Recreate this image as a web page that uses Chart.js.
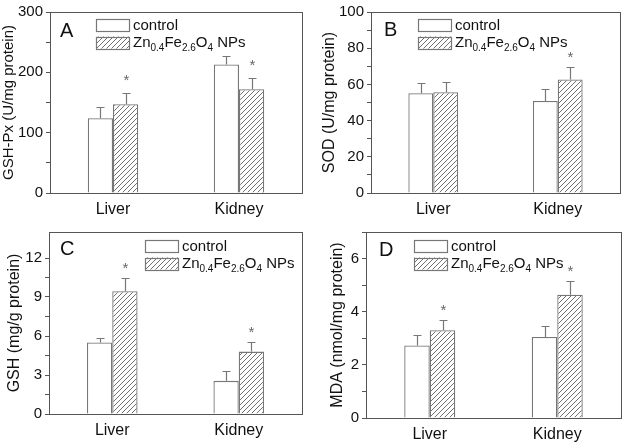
<!DOCTYPE html>
<html>
<head>
<meta charset="utf-8">
<script src="https://cdn.jsdelivr.net/npm/chart.js@4.4.1/dist/chart.umd.min.js"></script>
<style>
  html, body { margin: 0; padding: 0; background: #fff; }
  #wrap { position: relative; width: 625px; height: 443px; overflow: hidden; background: #fff; }
  .panel { position: absolute; }
  canvas { display: block; }
</style>
</head>
<body>
<div id="wrap">
  <div class="panel" style="left:0px;top:0px;width:312px;height:220px"><canvas id="cA" width="312" height="220"></canvas></div>
  <div class="panel" style="left:312px;top:0px;width:313px;height:220px"><canvas id="cB" width="313" height="220"></canvas></div>
  <div class="panel" style="left:0px;top:220px;width:312px;height:223px"><canvas id="cC" width="312" height="223"></canvas></div>
  <div class="panel" style="left:312px;top:220px;width:313px;height:223px"><canvas id="cD" width="313" height="223"></canvas></div>
</div>
<script>
// ---------------- DATA ----------------
const categories = ['Liver', 'Kidney'];
const seriesNames = ['control', 'Zn_{0.4}Fe_{2.6}O_{4} NPs'];

// A: GSH-Px (U/mg protein)
const gshpxControl    = [124, 213];
const gshpxControlErr = [18, 14];
const gshpxNP         = [147, 172];
const gshpxNPErr      = [19, 18];
const gshpxSignif     = [true, true];

// B: SOD (U/mg protein)
const sodControl    = [55.1, 50.8];
const sodControlErr = [5.4, 6.5];
const sodNP         = [55.7, 62.7];
const sodNPErr      = [5.4, 7.0];
const sodSignif     = [false, true];

// C: GSH (mg/g protein)
const gshControl    = [5.5, 2.55];
const gshControlErr = [0.35, 0.72];
const gshNP         = [9.45, 4.8];
const gshNPErr      = [1.05, 0.75];
const gshSignif     = [true, true];

// D: MDA (nmol/mg protein)
const mdaControl    = [2.73, 3.05];
const mdaControlErr = [0.38, 0.42];
const mdaNP         = [3.3, 4.64];
const mdaNPErr      = [0.4, 0.52];
const mdaSignif     = [true, true];

// axis settings (tick values)
const gshpxTicks = { max: 300, major: 100 };
const sodTicks   = { max: 100, major: 20 };
const gshTicks   = { max: 14,  major: 3 };
const mdaTicks   = { max: 7,   major: 2 };

// ---------------- STYLE ----------------
Chart.defaults.font.family = "'Liberation Sans', Arial, sans-serif";
Chart.defaults.color = '#222';
const FRAME = '#555555';
const BAR_EDGE = '#777777';

function makeHatch() {
  const s = 5;
  const c = document.createElement('canvas');
  c.width = s; c.height = s;
  const g = c.getContext('2d');
  g.fillStyle = '#fff';
  g.fillRect(0, 0, s, s);
  g.strokeStyle = '#707070';
  g.lineWidth = 1;
  g.beginPath();
  g.moveTo(-1, s + 1); g.lineTo(s + 1, -1);
  g.moveTo(-1, 1); g.lineTo(1, -1);
  g.moveTo(s - 1, s + 1); g.lineTo(s + 1, s - 1);
  g.stroke();
  return g.createPattern(c, 'repeat');
}
const hatch = makeHatch();

function drawRich(ctx, text, x, y, size) {
  const parts = [];
  const re = /_\{([^}]*)\}/g;
  let last = 0, m;
  while ((m = re.exec(text))) {
    if (m.index > last) parts.push([text.slice(last, m.index), 0]);
    parts.push([m[1], 1]);
    last = re.lastIndex;
  }
  if (last < text.length) parts.push([text.slice(last), 0]);
  let cx = x;
  ctx.textAlign = 'left';
  ctx.textBaseline = 'middle';
  for (const [t, sub] of parts) {
    const fs = sub ? Math.round(size * 0.68) : size;
    ctx.font = fs + "px 'Liberation Sans', Arial, sans-serif";
    ctx.fillText(t, cx, y + (sub ? size * 0.34 : 0));
    cx += ctx.measureText(t).width;
  }
}

const panelPlugin = {
  id: 'panelExtras',
  afterDatasetsDraw(chart, args, opts) {
    const ctx = chart.ctx;
    const ys = chart.scales.y;
    const ca = chart.chartArea;
    ctx.save();
    chart.data.datasets.forEach((ds, i) => {
      const meta = chart.getDatasetMeta(i);
      meta.data.forEach((el, j) => {
        const v = ds.data[j];
        const e = ds.errors[j];
        const yTop = ys.getPixelForValue(v);
        const yErr = Math.round(ys.getPixelForValue(v + e)) + 0.5;
        const x = Math.round(el.x) + 0.5;
        ctx.strokeStyle = BAR_EDGE;
        ctx.lineWidth = 1.2;
        ctx.beginPath();
        ctx.moveTo(x, yTop);
        ctx.lineTo(x, yErr);
        ctx.moveTo(x - 4, yErr);
        ctx.lineTo(x + 4, yErr);
        ctx.stroke();
        if (ds.signif && ds.signif[j]) {
          ctx.fillStyle = '#666';
          ctx.font = "15px 'Liberation Sans', Arial, sans-serif";
          ctx.textAlign = 'center';
          ctx.textBaseline = 'middle';
          ctx.fillText('*', x, yErr - opts.starDy);
        }
      });
    });
    ctx.strokeStyle = FRAME;
    ctx.lineWidth = 1;
    ctx.strokeRect(Math.round(ca.left) + 0.5, Math.round(ca.top) + 0.5,
                   Math.round(ca.right - ca.left), Math.round(ca.bottom - ca.top));
    ctx.fillStyle = '#111';
    ctx.font = "20px 'Liberation Sans', Arial, sans-serif";
    ctx.textAlign = 'left';
    ctx.textBaseline = 'middle';
    ctx.fillText(opts.letter, ca.left + opts.letterDx, ca.top + opts.letterDy);
    const lx = ca.left + opts.legDx, ly = ca.top + opts.legDy;
    const bw = 33, bh = 12, gap = 17.5;
    chart.data.datasets.forEach((ds, i) => {
      const by = ly + i * gap;
      ctx.fillStyle = ds.backgroundColor;
      ctx.fillRect(lx, by, bw, bh);
      ctx.strokeStyle = BAR_EDGE;
      ctx.lineWidth = 1.2;
      ctx.strokeRect(Math.round(lx) + 0.5, Math.round(by) + 0.5, bw, bh);
      ctx.fillStyle = '#111';
      drawRich(ctx, ds.label, lx + bw + 4, by + bh / 2 + 0.5, 15);
    });
    ctx.restore();
  }
};

function makePanel(id, cfg) {
  const major = cfg.ticks.major;
  const isMajor = v => Math.abs(v / major - Math.round(v / major)) < 1e-6;
  const isHalf = v => Math.abs(2 * v / major - Math.round(2 * v / major)) < 1e-6;
  new Chart(document.getElementById(id), {
    type: 'bar',
    data: {
      labels: categories,
      datasets: [
        { label: seriesNames[0], data: cfg.control, errors: cfg.controlErr,
          backgroundColor: '#ffffff', borderColor: BAR_EDGE, borderWidth: 1.3,
          barPercentage: 1.0, categoryPercentage: 0.4 },
        { label: seriesNames[1], data: cfg.np, errors: cfg.npErr, signif: cfg.signif,
          backgroundColor: hatch, borderColor: BAR_EDGE, borderWidth: 1.3,
          barPercentage: 1.0, categoryPercentage: 0.4 }
      ]
    },
    options: {
      responsive: false,
      animation: false,
      events: [],
      layout: { padding: { top: cfg.padTop, right: cfg.padRight, left: 0, bottom: 0 } },
      plugins: {
        legend: { display: false },
        tooltip: { enabled: false },
        panelExtras: { letter: cfg.letter, letterDx: cfg.letterDx, letterDy: cfg.letterDy,
                       legDx: cfg.legDx, legDy: cfg.legDy, starDy: cfg.starDy }
      },
      scales: {
        x: {
          offset: true,
          grid: { display: false, drawTicks: false },
          border: { display: false },
          ticks: { padding: 7, color: '#111', font: { size: 16 } },
          afterFit: s => { s.height = cfg.xHeight; }
        },
        y: {
          min: 0, max: cfg.ticks.max,
          grid: { display: true, drawOnChartArea: false, drawTicks: true, tickLength: 4,
                  tickColor: c => (c.tick && isHalf(c.tick.value)) ? FRAME : 'rgba(0,0,0,0)' },
          border: { display: false },
          ticks: { stepSize: major / 2, autoSkip: false, padding: 3, color: '#111',
                   font: { size: 15 },
                   callback: v => isMajor(v) ? String(v) : '' },
          title: { display: true, text: cfg.title, color: '#111', font: { size: cfg.titleSize },
                   padding: { top: cfg.titlePad, bottom: 0 } },
          afterFit: s => { s.width = cfg.yWidth; }
        }
      }
    },
    plugins: [panelPlugin]
  });
}

makePanel('cA', {
  control: gshpxControl, controlErr: gshpxControlErr, np: gshpxNP, npErr: gshpxNPErr, signif: gshpxSignif,
  ticks: gshpxTicks, title: 'GSH-Px (U/mg protein)', titleSize: 15,
  yWidth: 50, xHeight: 27, padTop: 7, padRight: 10, titlePad: 0,
  letter: 'A', letterDx: 10, letterDy: 19, legDx: 46, legDy: 7, starDy: 13
});
makePanel('cB', {
  control: sodControl, controlErr: sodControlErr, np: sodNP, npErr: sodNPErr, signif: sodSignif,
  ticks: sodTicks, title: 'SOD (U/mg protein)', titleSize: 16,
  yWidth: 59, xHeight: 27, padTop: 8, padRight: 5, titlePad: 8,
  letter: 'B', letterDx: 13, letterDy: 18, legDx: 47, legDy: 7, starDy: 10
});
makePanel('cC', {
  control: gshControl, controlErr: gshControlErr, np: gshNP, npErr: gshNPErr, signif: gshSignif,
  ticks: gshTicks, title: 'GSH (mg/g protein)', titleSize: 16,
  yWidth: 49, xHeight: 29, padTop: 8, padRight: 10, titlePad: 5,
  letter: 'C', letterDx: 11, letterDy: 17, legDx: 96, legDy: 8, starDy: 10
});
makePanel('cD', {
  control: mdaControl, controlErr: mdaControlErr, np: mdaNP, npErr: mdaNPErr, signif: mdaSignif,
  ticks: mdaTicks, title: 'MDA (nmol/mg protein)', titleSize: 16,
  yWidth: 54, xHeight: 25, padTop: 10, padRight: 4, titlePad: 16,
  letter: 'D', letterDx: 13, letterDy: 18, legDx: 48, legDy: 8, starDy: 10
});
</script>
</body>
</html>
